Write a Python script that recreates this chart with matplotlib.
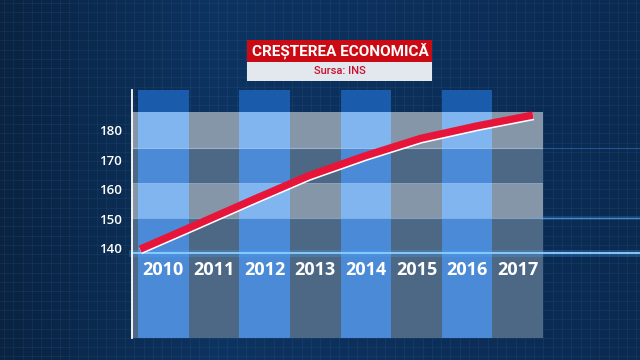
import numpy as np
import matplotlib
matplotlib.use('Agg')
from matplotlib import pyplot as plt
from matplotlib.patches import Rectangle
from matplotlib import patheffects as pe

# data
years = ['2010', '2011', '2012', '2013', '2014', '2015', '2016', '2017']
values = [139.7, 148.0, 156.4, 164.6, 171.3, 177.3, 181.5, 185.2]
yticks = [140, 150, 160, 170, 180]
title = 'CREȘTEREA ECONOMICĂ'
source = 'Sursa: INS'

# band edges of the backdrop (value units) and their look
band_edges = [109.6, 138.4, 150.3, 162.2, 174.0, 186.2, 193.7]
band_kind = ['dark', 'dark', 'light', 'dark', 'light', 'top']
grey_col = {'dark': '#4c6884', 'light': '#8596a8'}
blue_col = {'dark': '#4a8ad6', 'light': '#80b5f0', 'top': '#1a5bab'}

W, H = 640, 360
fig = plt.figure(figsize=(6.4, 3.6), dpi=100)

# background with a fine grid
bg = fig.add_axes([0, 0, 1, 1])
grad = np.linspace(0, 1, 256)[None, :]
cmap = matplotlib.colors.LinearSegmentedColormap.from_list(
    'bg', ['#092341', '#0d3360', '#0c2f5a', '#0a2a50'])
bg.imshow(grad, aspect='auto', cmap=cmap, extent=[0, W, H, 0])
bg.set_xlim(0, W)
bg.set_ylim(H, 0)
bg.set_xticks(np.arange(4, W, 9.3))
bg.set_yticks(np.arange(3, H, 9.3))
bg.grid(True, color='#3a6a9e', alpha=0.18, lw=0.6)
bg.tick_params(length=0, labelbottom=False, labelleft=False)
for s in bg.spines.values():
    s.set_visible(False)

# chart area
ax = fig.add_axes([132 / W, 22 / H, 411 / W, 248 / H])
ax.set_facecolor('none')
ax.set_xlim(-0.62, 7.5)
ax.set_ylim(band_edges[0], band_edges[-1])
x = np.arange(len(years))
blue = x[x % 2 == 0]

for lo, hi, kind in zip(band_edges[:-1], band_edges[1:], band_kind):
    if kind != 'top':
        ax.axhspan(lo, hi, color=grey_col[kind], lw=0, zorder=1)
    ax.bar(blue, hi - lo, bottom=lo, width=1.0, color=blue_col[kind],
           lw=0, zorder=2)

# thin light lines on band edges
ax.axhline(band_edges[4], color='#b8d2ee', lw=0.8, alpha=0.7, zorder=3)
ax.axhline(band_edges[2], color='#9cc8f5', lw=0.8, alpha=0.6, zorder=3)
ax.axhline(band_edges[3], color='#9cc8f5', lw=0.6, alpha=0.3, zorder=3)
# glowing lines that run out to the right edge
ext = (W - 132) / 411
ax.axhline(band_edges[1], xmax=ext, color='#4fa6ff', lw=5, alpha=0.25,
           zorder=3, clip_on=False)
ax.axhline(band_edges[1], xmax=ext, color='#8fd0ff', lw=1.3, zorder=3,
           clip_on=False)
ax.axhline(band_edges[2], xmin=1, xmax=ext, color='#4fa6ff', lw=3,
           alpha=0.2, zorder=3, clip_on=False)
ax.axhline(band_edges[2], xmin=1, xmax=ext, color='#6fb8ff', lw=0.8,
           alpha=0.6, zorder=3, clip_on=False)
ax.axhline(band_edges[4], xmin=1, xmax=ext, color='#4fa6ff', lw=0.8,
           alpha=0.35, zorder=3, clip_on=False)

# year labels inside the columns
for xi, yr in zip(x, years):
    ax.text(xi, 132.7, yr, ha='center', va='center', color='white',
            fontsize=13, fontweight='bold', family=['Open Sans', 'DejaVu Sans'],
            zorder=5)

ax.set_yticks(yticks)
ax.set_yticklabels([str(t) for t in yticks], color='white', fontsize=9.5,
                   fontweight='semibold', family=['Open Sans', 'DejaVu Sans'])
ax.tick_params(axis='y', length=0, pad=7)
ax.set_xticks([])
for s in ['top', 'right', 'bottom']:
    ax.spines[s].set_visible(False)
ax.spines['left'].set_color('white')
ax.spines['left'].set_linewidth(1.3)
ax.spines['left'].set_zorder(6)

# growth line on its own x scale (it spans the chart, not column centres)
lx = ax.twiny()
lx.set_xlim(-0.1425, 7.178)
lx.set_ylim(ax.get_ylim())
lx.axis('off')
lx.plot(np.arange(len(values)), values, color='#e8153b', lw=5.3,
        solid_capstyle='butt', solid_joinstyle='round',
        path_effects=[pe.SimpleLineShadow(offset=(0.3, -1.1),
                                          shadow_color='white', alpha=1.0),
                      pe.Normal()], zorder=7)

# title box
fig.add_artist(Rectangle((247 / W, 1 - 62 / H), 185 / W, 22 / H,
                         transform=fig.transFigure, color='#cc0a14', lw=0))
fig.add_artist(Rectangle((247 / W, 1 - 81 / H), 185 / W, 19 / H,
                         transform=fig.transFigure, color='#e3e7ee', lw=0))
fig.text(340 / W, 1 - 51.5 / H, title, ha='center', va='center',
         color='white', fontsize=11, fontweight='bold',
         family=['Roboto', 'DejaVu Sans'])
fig.text(340 / W, 1 - 71.5 / H, source, ha='center', va='center',
         color='#c8102e', fontsize=8, fontweight='medium',
         family=['Roboto', 'DejaVu Sans'])

fig.savefig('out.png', dpi=100)
